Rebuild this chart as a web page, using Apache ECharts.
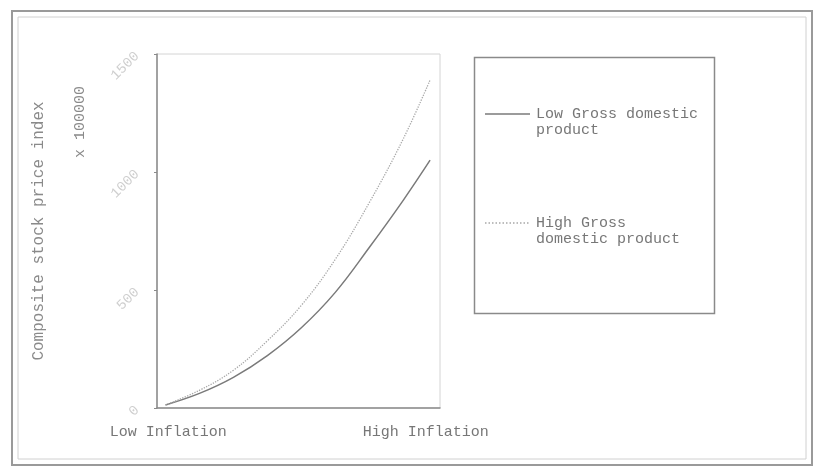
<!DOCTYPE html>
<html>
<head>
<meta charset="utf-8">
<script src="https://cdn.jsdelivr.net/npm/echarts@6/dist/echarts.min.js"></script>
<style>
  html, body { margin: 0; padding: 0; background: #fff; }
  #chart { width: 814px; height: 468px; }
</style>
</head>
<body>
<div id="chart"></div>
<script>
// inflation position, 0 = low, 100 = high
const inflation = [3, 15, 27, 39, 51, 63, 75, 87, 96.5]
// composite stock price index (x 100000)
const lowGdp = [13, 62, 130, 222, 340, 490, 680, 880, 1050]
const highGdp = [13, 75, 160, 285, 435, 630, 870, 1140, 1390]
const seriesNames = ['Low Gross domestic\nproduct', 'High Gross\ndomestic product']
const xLabels = ['Low Inflation', 'High Inflation']
const xLabelPos = [4, 95]
const yTicks = [0, 500, 1000, 1500]

const mono = '"Liberation Mono", "DejaVu Sans Mono", monospace'
const lowColor = '#7a7a7a'
const highColor = '#a8a8a8'
const chart = echarts.init(document.getElementById('chart'))

const pairs = arr => inflation.map((x, i) => [x, arr[i]])

// legend drawn by hand: the box and entries sit apart from the plot
const legendItem = (name, y, color, dash) => [
  {
    type: 'line',
    shape: { x1: 485, y1: y, x2: 530, y2: y },
    style: { stroke: color, lineWidth: 1.5, lineDash: dash },
    silent: true
  },
  {
    type: 'text',
    x: 536,
    y: y - 8,
    style: {
      text: name,
      fontFamily: mono,
      fontSize: 15,
      lineHeight: 16,
      fill: '#777',
      align: 'left',
      verticalAlign: 'top'
    },
    silent: true
  }
]

chart.setOption({
  animation: false,
  backgroundColor: '#fff',
  grid: {
    left: 157,
    right: 374,
    top: 54,
    bottom: 60,
    show: true,
    borderColor: '#d4d4d4',
    borderWidth: 1
  },
  xAxis: {
    type: 'value',
    min: 0,
    max: 100,
    axisLine: { lineStyle: { color: '#8a8a8a', width: 1.5 } },
    axisTick: { show: false },
    splitLine: { show: false },
    axisLabel: {
      customValues: xLabelPos,
      formatter: v => xLabels[xLabelPos.indexOf(v)] || '',
      margin: 17,
      fontFamily: mono,
      fontSize: 15,
      color: '#777'
    }
  },
  yAxis: {
    type: 'value',
    min: yTicks[0],
    max: yTicks[yTicks.length - 1],
    interval: 500,
    name: 'Composite stock price index',
    nameLocation: 'middle',
    nameRotate: 90,
    nameGap: 110,
    nameTextStyle: {
      fontFamily: mono,
      fontSize: 16,
      color: '#8a8a8a'
    },
    axisLine: { show: true, lineStyle: { color: '#8a8a8a', width: 1.5 } },
    axisTick: { show: true, length: 3, lineStyle: { color: '#8a8a8a' } },
    splitLine: { show: false },
    axisLabel: {
      rotate: 45,
      margin: 20,
      formatter: v => String(v),
      fontFamily: mono,
      fontSize: 14,
      color: '#cfcfcf'
    }
  },
  series: [
    {
      name: seriesNames[0],
      type: 'line',
      smooth: 0.4,
      symbol: 'none',
      data: pairs(lowGdp),
      lineStyle: { color: lowColor, width: 1.5, type: 'solid' }
    },
    {
      name: seriesNames[1],
      type: 'line',
      smooth: 0.4,
      symbol: 'none',
      data: pairs(highGdp),
      lineStyle: { color: highColor, width: 1.3, type: 'dotted' }
    }
  ],
  graphic: [
    {
      type: 'rect',
      shape: { x: 12, y: 11, width: 800, height: 454 },
      style: { fill: 'none', stroke: '#9a9a9a', lineWidth: 2 },
      silent: true
    },
    {
      type: 'rect',
      shape: { x: 18, y: 17, width: 788, height: 442 },
      style: { fill: 'none', stroke: '#d0d0d0', lineWidth: 1 },
      silent: true
    },
    {
      type: 'rect',
      shape: { x: 474.5, y: 57.5, width: 240, height: 256 },
      style: { fill: 'none', stroke: '#8a8a8a', lineWidth: 1.5 },
      silent: true
    },
    ...legendItem(seriesNames[0], 114, lowColor, null),
    ...legendItem(seriesNames[1], 223, highColor, [1.5, 2]),
    {
      type: 'text',
      x: 80,
      y: 122,
      rotation: Math.PI / 2,
      style: {
        text: 'x 100000',
        fontFamily: mono,
        fontSize: 15,
        fill: '#8a8a8a',
        align: 'center',
        verticalAlign: 'middle'
      },
      silent: true
    }
  ]
})
</script>
</body>
</html>
